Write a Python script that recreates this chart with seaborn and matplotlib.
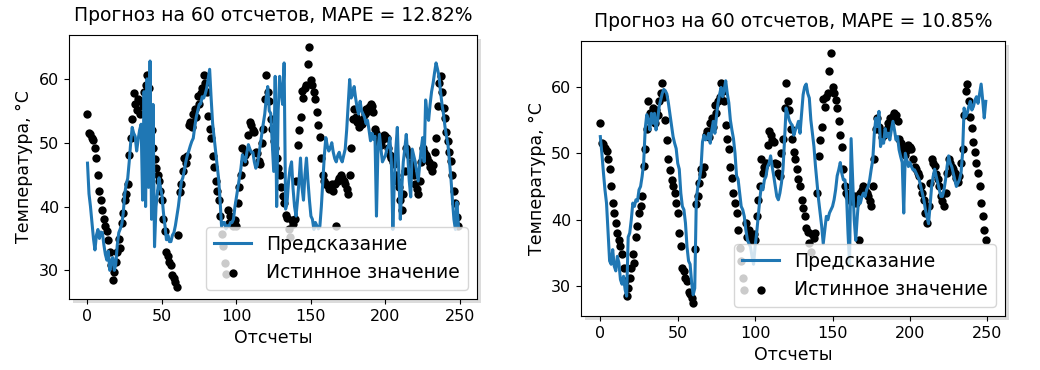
import numpy as np
import pandas as pd
import seaborn as sns
import matplotlib
matplotlib.use('Agg')
import matplotlib.pyplot as plt
import matplotlib.patheffects as pe

# истинные значения температуры (общие для обоих графиков)
true_vals = [
    54.5, 51.5, 51.4, 50.8, 50.4, 49.1, 47.6, 45.0, 42.5, 41.0,
    39.5, 38.0, 37.0, 36.1, 34.8, 32.8, 30.8, 28.5, 29.8, 31.3,
    32.8, 34.9, 33.5, 37.4, 39.0, 41.0, 42.0, 43.5, 48.1, 50.7,
    53.7, 57.8, 56.0, 55.2, 56.8, 54.5, 56.5, 55.8, 57.9, 59.0,
    60.6, 58.5, 55.0, 52.0, 49.1, 47.5, 46.0, 45.0, 44.0, 42.5,
    41.0, 38.0, 36.1, 32.8, 32.3, 31.3, 30.8, 29.2, 28.8, 28.2,
    27.4, 35.6, 42.3, 43.5, 45.5, 47.6, 46.8, 47.9, 52.7, 53.3,
    52.5, 54.5, 55.3, 54.0, 57.3, 56.0, 57.8, 58.5, 60.6, 59.4,
    57.9, 54.2, 52.2, 50.7, 47.9, 46.2, 44.0, 42.5, 41.0, 38.5,
    35.7, 33.8, 31.2, 29.5, 39.5, 37.4, 38.5, 37.9, 36.9, 37.9,
    36.9, 40.5, 43.0, 45.0, 49.1, 47.0, 48.0, 48.6, 51.2, 53.3,
    52.7, 52.0, 51.7, 48.6, 48.4, 47.1, 46.6, 50.0, 52.2, 56.8,
    60.6, 57.9, 56.5, 53.7, 52.2, 50.2, 49.2, 47.6, 46.1, 45.0,
    43.0, 41.7, 40.5, 38.7, 38.2, 36.5, 35.2, 37.9, 37.3, 38.0,
    44.0, 49.6, 52.0, 54.0, 58.1, 57.0, 58.5, 59.1, 62.4, 65.0,
    59.9, 59.0, 58.0, 56.8, 54.8, 52.7, 50.9, 47.6, 45.0, 44.0,
    43.5, 43.3, 42.8, 43.0, 43.6, 42.5, 43.5, 36.9, 44.0, 44.5,
    45.0, 44.5, 44.0, 43.5, 42.8, 42.0, 45.0, 49.1, 53.7, 55.3,
    54.0, 53.3, 52.5, 52.8, 53.0, 53.7, 54.5, 55.3, 55.0, 55.6,
    56.0, 55.8, 54.8, 52.2, 51.5, 50.7, 50.0, 49.7, 50.5, 51.2,
    51.0, 50.7, 49.2, 48.0, 47.6, 47.0, 46.6, 45.0, 44.0, 43.0,
    41.0, 39.5, 42.0, 45.5, 49.1, 48.6, 48.1, 46.8, 46.1, 45.0,
    43.5, 42.8, 42.0, 44.0, 47.0, 49.1, 48.5, 48.0, 47.6, 47.0,
    46.2, 45.6, 46.5, 48.5, 50.7, 55.8, 59.4, 60.4, 57.9, 55.4,
    53.8, 51.7, 50.2, 48.5, 47.1, 45.0, 42.5, 40.5, 38.4, 37.0,
]

# прогноз модели 1 (MAPE = 12.82%)
pred_left = [
    46.8, 42.0, 40.0, 37.5, 35.0, 33.2, 35.5, 36.4, 35.0, 36.0,
    35.9, 34.0, 32.5, 31.6, 33.0, 30.0, 31.5, 32.0, 30.0, 31.0,
    34.0, 35.9, 36.5, 37.2, 39.0, 42.0, 43.5, 44.4, 47.0, 50.0,
    52.4, 51.5, 51.0, 48.7, 50.5, 52.0, 52.9, 41.0, 58.0, 40.0,
    60.0, 43.0, 62.8, 38.0, 56.0, 33.7, 40.0, 42.3, 44.5, 43.0,
    41.7, 39.0, 37.0, 34.8, 35.5, 34.5, 34.5, 35.5, 35.9, 37.0,
    38.5, 40.0, 42.0, 43.9, 44.5, 45.7, 47.0, 48.0, 48.7, 49.5,
    50.2, 50.7, 52.5, 54.0, 55.0, 56.0, 56.1, 57.2, 57.0, 57.6,
    58.5, 60.0, 61.5, 57.0, 53.0, 50.8, 48.5, 46.5, 44.4, 41.0,
    36.9, 37.5, 37.5, 36.5, 37.0, 36.9, 37.5, 37.5, 38.0, 40.0,
    41.5, 43.0, 44.4, 46.0, 48.1, 47.5, 47.0, 48.5, 49.7, 49.0,
    48.5, 48.5, 47.0, 46.0, 46.5, 48.0, 49.7, 51.5, 53.0, 54.5,
    57.0, 58.8, 55.0, 54.6, 50.0, 45.5, 60.4, 40.0, 55.0, 60.4,
    58.0, 56.0, 62.5, 39.6, 40.7, 44.0, 46.0, 47.0, 42.8, 40.0,
    38.5, 41.0, 44.0, 47.6, 43.0, 41.0, 45.0, 47.6, 44.0, 41.0,
    38.5, 38.0, 36.4, 37.5, 37.0, 36.5, 36.9, 40.0, 44.0, 48.0,
    50.8, 49.5, 48.7, 49.2, 50.0, 48.5, 47.5, 47.0, 48.0, 48.5,
    47.5, 47.0, 48.0, 49.0, 52.0, 56.0, 59.9, 57.0, 57.5, 58.8,
    57.0, 55.5, 54.5, 56.5, 55.0, 54.5, 54.0, 53.0, 53.5, 52.0,
    50.3, 51.5, 50.5, 51.0, 38.5, 49.0, 51.3, 49.0, 47.0, 47.5,
    48.0, 49.0, 49.5, 50.8, 47.0, 36.4, 44.0, 49.0, 52.4, 45.0,
    38.0, 43.0, 47.0, 49.0, 51.3, 48.0, 44.0, 41.5, 49.0, 48.0,
    47.0, 45.5, 44.0, 46.5, 49.0, 50.8, 47.0, 56.7, 54.5, 53.5,
    56.0, 58.0, 59.3, 61.0, 62.5, 61.5, 60.4, 58.0, 56.0, 54.5,
    52.5, 51.0, 49.7, 47.0, 44.4, 41.0, 38.0, 36.4, 40.7, 37.0,
]

# прогноз модели 2 (MAPE = 10.85%)
pred_right = [
    52.5, 50.0, 47.1, 44.5, 42.5, 38.0, 33.8, 33.3, 35.5, 33.0,
    32.3, 34.5, 33.5, 31.0, 30.3, 31.5, 29.5, 28.5, 37.4, 38.0,
    40.0, 42.5, 42.0, 43.0, 42.8, 44.5, 45.0, 46.5, 48.6, 53.7,
    55.8, 55.0, 53.5, 56.0, 54.5, 56.0, 53.5, 55.0, 57.0, 58.0,
    59.0, 59.6, 59.4, 58.9, 57.5, 55.8, 54.0, 52.5, 51.5, 50.7,
    48.5, 47.6, 44.0, 42.0, 41.5, 39.5, 35.9, 33.8, 33.3, 30.5,
    28.7, 29.7, 43.0, 45.0, 46.0, 47.6, 51.7, 52.7, 52.0, 52.2,
    53.0, 51.5, 53.5, 54.8, 53.0, 55.5, 57.5, 58.8, 59.9, 58.5,
    59.5, 60.9, 59.0, 57.6, 55.0, 53.5, 52.2, 50.0, 46.6, 46.1,
    44.0, 42.0, 41.5, 40.5, 38.5, 37.0, 36.4, 35.9, 34.5, 33.3,
    36.0, 38.0, 40.5, 43.0, 45.1, 44.5, 46.0, 46.5, 48.0, 48.5,
    49.6, 48.0, 46.6, 45.0, 43.5, 43.0, 44.0, 45.5, 47.6, 52.0,
    56.8, 56.0, 55.0, 54.5, 54.2, 52.7, 53.5, 54.0, 54.8, 53.0,
    56.0, 58.8, 60.0, 60.4, 59.0, 58.3, 55.0, 53.0, 51.0, 48.0,
    45.5, 43.0, 41.0, 39.0, 36.4, 38.5, 40.5, 40.0, 41.0, 41.5,
    42.0, 43.0, 44.5, 46.6, 47.5, 48.6, 47.0, 46.0, 46.0, 44.0,
    38.0, 33.3, 52.2, 46.0, 40.0, 36.9, 40.5, 43.5, 42.5, 43.5,
    44.0, 43.5, 44.5, 45.0, 46.0, 47.6, 49.0, 53.0, 55.3, 54.0,
    56.3, 51.0, 52.0, 51.5, 53.7, 52.5, 53.0, 52.0, 53.5, 54.8,
    53.5, 52.0, 52.5, 50.5, 49.5, 48.6, 41.0, 50.0, 49.0, 48.0,
    48.6, 48.0, 47.5, 47.5, 47.0, 46.5, 46.0, 45.0, 44.0, 43.0,
    41.5, 40.5, 39.4, 42.0, 45.0, 46.5, 47.6, 46.5, 45.5, 44.5,
    43.5, 43.5, 44.5, 46.0, 48.0, 49.6, 48.5, 48.0, 47.0, 46.0,
    45.0, 45.5, 46.0, 47.0, 50.0, 56.8, 55.5, 56.0, 57.0, 57.8,
    56.5, 57.0, 58.0, 58.5, 57.5, 59.0, 60.4, 58.0, 55.3, 57.8,
]

titles = ['Прогноз на 60 отсчетов, MAPE = 12.82%',
          'Прогноз на 60 отсчетов, MAPE = 10.85%']

steps = np.arange(len(true_vals))

fig = plt.figure(figsize=(10.4, 3.7), dpi=100)
ax1 = fig.add_axes([0.0663, 0.192, 0.3923, 0.7135])
ax2 = fig.add_axes([0.5587, 0.146, 0.4077, 0.7432])

# лёгкая тень, как на скриншоте
shadow = [pe.SimplePatchShadow(offset=(3, -3), shadow_rgbFace='#bbbbbb', alpha=0.5), pe.Normal()]

for ax, pred, t in [(ax1, pred_left, titles[0]), (ax2, pred_right, titles[1])]:
    df = pd.DataFrame({'step': steps, 'true': true_vals, 'pred': pred})
    sns.lineplot(data=df, x='step', y='pred', ax=ax, color='#1f77b4', lw=2.2,
                 estimator=None, label='Предсказание')
    sns.scatterplot(data=df, x='step', y='true', ax=ax, color='black', s=36,
                    linewidth=0, label='Истинное значение')
    ax.set_title(t, fontsize=13.5, pad=10)
    ax.set_xlabel('Отсчеты', fontsize=12.5)
    ax.set_ylabel('Температура, °C', fontsize=12.5)
    ax.set_xticks([0, 50, 100, 150, 200, 250])
    ax.set_yticks([30, 40, 50, 60])
    ax.tick_params(labelsize=11.5)
    ax.patch.set_path_effects(shadow)
    ax.legend(loc='lower right', fontsize=13.5)

fig.savefig('out.png', dpi=100)
